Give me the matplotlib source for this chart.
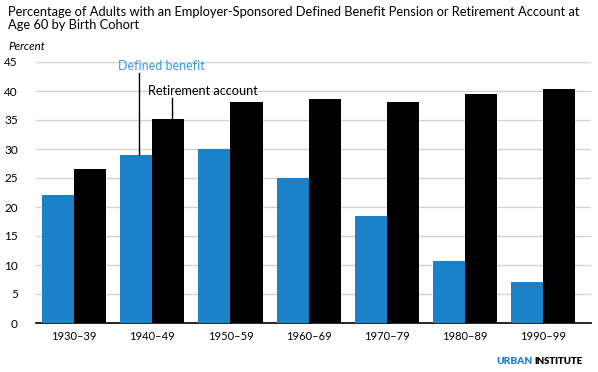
import numpy as np
import matplotlib.pyplot as plt

plt.rcParams['font.family'] = ['Lato', 'DejaVu Sans']

cohorts = ['1930–39', '1940–49', '1950–59', '1960–69', '1970–79', '1980–89', '1990–99']
defined_benefit = [22.0, 29.0, 30.0, 25.0, 18.5, 10.7, 7.0]
retirement_account = [26.5, 35.2, 38.1, 38.6, 38.1, 39.4, 40.3]

blue = '#1b82c9'
W, H = 598, 372

fig = plt.figure(figsize=(W / 100, H / 100), dpi=100)
ax = fig.add_axes([36 / W, (H - 323) / H, (591 - 36) / W, (323 - 62) / H])

x = np.arange(len(cohorts))
bw = 0.41
ax.bar(x - bw / 2, defined_benefit, bw, color=blue, zorder=3)
ax.bar(x + bw / 2, retirement_account, bw, color='black', zorder=3)

ax.set_xlim(-0.486, 6.61)
ax.set_ylim(0, 45)
ax.set_yticks(np.arange(0, 50, 5))
ax.set_xticks(x)
ax.set_xticklabels(cohorts, fontsize=8)
ax.tick_params(axis='y', labelsize=8.5, length=0, pad=13)
ax.tick_params(axis='x', length=0, pad=6)
ax.grid(axis='y', color='#d2d2d2', linewidth=1, zorder=0)
for s in ['top', 'right', 'left']:
    ax.spines[s].set_visible(False)
ax.spines['bottom'].set_linewidth(1.2)

# callouts
db_x = 1 - bw / 2 + 0.04
ra_x = 1 + bw / 2 + 0.05
ax.plot([db_x, db_x], [defined_benefit[1], 43.1], color='black', lw=1, zorder=4)
ax.plot([ra_x, ra_x], [retirement_account[1], 38.8], color='black', lw=1, zorder=4)
ax.text(0.563, 43.6, 'Defined benefit', color='#3a9ad9', fontsize=9, ha='left', va='baseline')
ax.text(0.946, 39.3, 'Retirement account', color='black', fontsize=9.2, ha='left', va='baseline')

fig.text(8 / W, 1 - 6 / H, 'Percentage of Adults with an Employer-Sponsored Defined Benefit Pension or Retirement Account at\nAge 60 by Birth Cohort',
         fontsize=9.3, ha='left', va='top', linespacing=1.12)
fig.text(8 / W, 1 - 41 / H, 'Percent', fontsize=8.3, style='italic', ha='left', va='top')

fig.text(496 / W, 1 - 362 / H, 'URBAN', color=blue, fontsize=7.3, weight='heavy', ha='left', va='center')
fig.text(534 / W, 1 - 362 / H, 'INSTITUTE', color='black', fontsize=6.8, weight='heavy', ha='left', va='center')

fig.savefig('out.png', dpi=100)
